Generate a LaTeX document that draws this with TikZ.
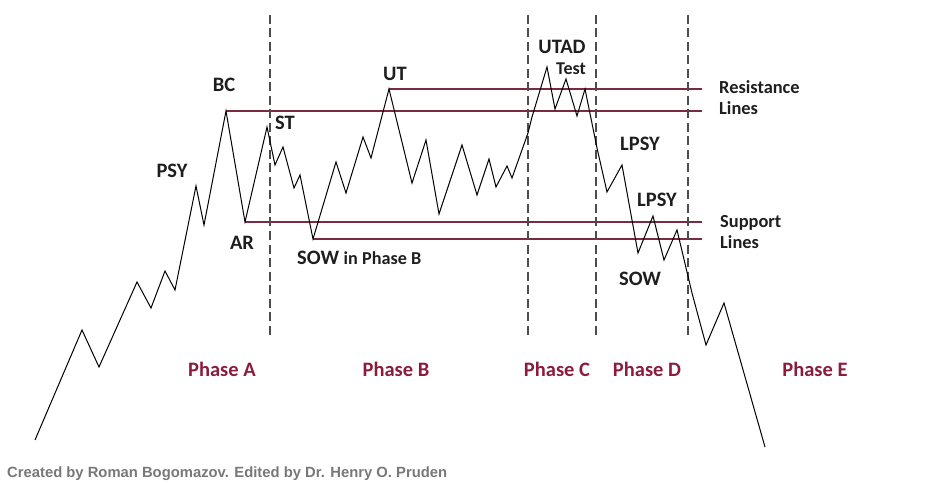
\documentclass[tikz,border=0pt]{standalone}
\usepackage{fontspec}
\setmainfont{Carlito}
\newfontfamily\creditfont{Liberation Sans}
\usetikzlibrary{positioning}
\definecolor{levelred}{HTML}{7B2B3F}
\definecolor{phasered}{HTML}{8A1C3C}
\definecolor{labelgray}{HTML}{1E1E1E}
\definecolor{creditgray}{HTML}{787878}
\tikzset{
      wyckoff/.style={
        x=1pt,y=-1pt,
        price/.style={black,line width=1pt,line join=miter},
        level/.style={levelred,line width=1.2pt},
        divider/.style={black!70,line width=1.2pt,dash pattern=on 9pt off 4.5pt},
        tag/.style={font=\fontsize{20.5}{22}\selectfont\bfseries,text=labelgray,inner sep=0pt,anchor=base},
        note/.style={font=\fontsize{18.4}{20}\selectfont\bfseries,text=labelgray,inner sep=0pt,anchor=base west},
        phase/.style={font=\fontsize{20.5}{22}\selectfont\bfseries,text=phasered,inner sep=0pt,anchor=base}
      }
    }

\begin{document}
\begin{tikzpicture}[wyckoff]
\useasboundingbox (0,0) rectangle (946,484);
% price path
\foreach \px/\py[count=\i] in {
  35/440,
  82/330,
  99/367,
  137/282,
  151/308,
  165/271,
  175/290,
  196/186,
  204/225,
  226/111,
  245/222,
  267/127,
  275/165,
  283/147,
  294/188,
  300/175,
  313/239,
  336/162,
  346/193,
  363/137,
  371/158,
  389/89,
  412/183,
  426/140,
  439/214,
  462/145,
  477/195,
  489/159,
  496/187,
  507/166,
  512/178,
  528/133,
  532/117,
  547/67,
  555/109,
  566/79,
  577/116,
  585/89,
  597/148,
  607/192,
  622/165,
  638/253,
  653/216,
  664/260,
  677/230,
  692/293,
  706/345,
  724/303,
  765/447
}
\coordinate (p\i) at (\px,\py);
\coordinate (resHiEnd) at (702,89);
\coordinate (resLoEnd) at (702,111);
\coordinate (supHiEnd) at (702,222);
\coordinate (supLoEnd) at (702,239);
% resistance and support
\draw[level] (p22) -- (resHiEnd);
\draw[level] (p10) -- (resLoEnd);
\draw[level] (p11) -- (supHiEnd);
\draw[level] (p17) -- (supLoEnd);
% phase borders
\foreach \x[count=\k] in {270,528,596,688}{
  \coordinate (top\k) at (\x,15);
  \coordinate (bot\k) at (\x,336);
  \draw[divider] (top\k) -- (bot\k);
}
\draw[price] (p1) \foreach \i in {2,...,49}{ -- (p\i)};
% event labels
\node[tag] (bc) at (224,92) {BC};
\node[tag] (st) at (285,130) {ST};
\node[tag] (psy) at (172,178) {PSY};
\node[tag] (ar) at (242,249) {AR};
\node[tag] (ut) at (395,81) {UT};
\node[tag,anchor=base west] (sowB) at (297,264) {SOW {\fontsize{18.2}{20}\selectfont in Phase B}};
\node[tag] (utad) at (562,54) {UTAD};
\node[tag,font=\fontsize{18}{20}\selectfont\bfseries] (test) at (571,75) {Test};
\node[tag] (lpsyA) at (640,151) {LPSY};
\node[tag] (lpsyB) at (657,207) {LPSY};
\node[tag] (sowD) at (640,285) {SOW};
% line names
\node[note] (resName) at (719,94) {Resistance};
\node[note] (resLines) at (719,115) {Lines};
\node[note] (supName) at (720,227) {Support};
\node[note] (supLines) at (720,248) {Lines};
% phases
\foreach \t/\x in {A/222,B/396,C/557,D/647,E/815}
\node[phase] (phase\t) at (\x,376) {Phase \t};
\node[inner sep=0pt,anchor=base west,text=creditgray,font=\creditfont\fontsize{14.8}{16}\selectfont\bfseries] (credit) at (7,477) {Created by Roman Bogomazov. Edited by Dr. Henry O. Pruden};
\end{tikzpicture}
\end{document}
